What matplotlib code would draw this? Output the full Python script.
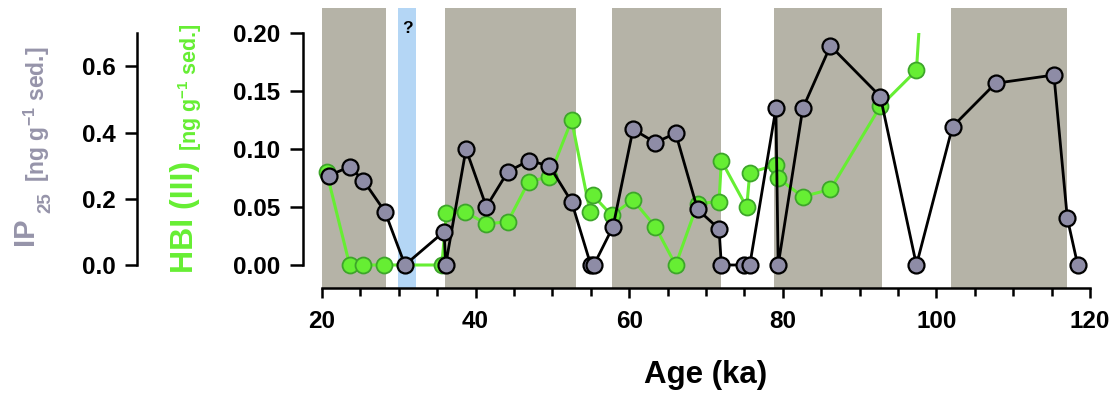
import matplotlib
matplotlib.use("Agg")
import matplotlib.pyplot as plt
from matplotlib.patches import Rectangle

plt.rcParams['font.family'] = ['Liberation Sans', 'DejaVu Sans']
plt.rcParams['font.weight'] = 'bold'
plt.rcParams['mathtext.fontset'] = 'custom'
plt.rcParams['mathtext.bf'] = 'Liberation Sans:bold'
plt.rcParams['mathtext.rm'] = 'Liberation Sans:bold'
plt.rcParams['mathtext.default'] = 'bf'

# ---------------- data ----------------
ip25_age = [20.9, 23.6, 25.4, 28.2, 30.8, 35.9, 36.1, 38.75, 41.4, 44.2, 46.9, 49.6,
            52.5, 55.0, 55.4, 57.9, 60.5, 63.4, 66.05, 68.9, 71.7, 72.0, 75.0, 75.7,
            79.1, 79.4, 82.6, 86.2, 92.7, 97.4, 102.1, 107.7, 115.3, 117.05, 118.4]
ip25_val = [0.270, 0.297, 0.255, 0.161, 0.0, 0.101, 0.0, 0.350, 0.176, 0.282, 0.315, 0.300,
            0.191, 0.0, 0.0, 0.116, 0.410, 0.370, 0.398, 0.168, 0.109, 0.0, 0.0, 0.0,
            0.473, 0.0, 0.473, 0.662, 0.509, 0.0, 0.418, 0.549, 0.574, 0.141, 0.0]

hbi_age = [20.6, 23.6, 25.4, 28.1, 35.6, 36.2, 38.6, 41.4, 44.2, 46.9, 49.6, 52.5,
           54.9, 55.3, 57.7, 60.5, 63.4, 66.05, 68.9, 71.7, 72.0, 75.3, 75.7, 79.1,
           79.4, 82.6, 86.2, 92.7, 97.4, 98.2]
hbi_val = [0.080, 0.0, 0.0, 0.0, 0.0, 0.0446, 0.046, 0.0354, 0.0374, 0.0719, 0.0762, 0.125,
           0.046, 0.060, 0.043, 0.0561, 0.033, 0.0, 0.053, 0.0547, 0.090, 0.0498, 0.0797, 0.0863,
           0.0748, 0.059, 0.0653, 0.137, 0.168, 0.25]

cold_bands = [(20.0, 28.3), (36.0, 53.1), (57.8, 71.9), (78.9, 92.9), (101.9, 117.0)]
blue_band = (29.9, 32.3)

x_ticks = [20, 40, 60, 80, 100, 120]
hbi_ticks = [0.00, 0.05, 0.10, 0.15, 0.20]
ip25_ticks = [0.0, 0.2, 0.4, 0.6]

# ---------------- styles ----------------
W, H = 1117, 396
band_col = '#b5b3a7'
blue_col = '#b4d6f5'
gray_fill = '#8e8ca6'
green = '#66ee33'
green_edge = '#3da52a'
ip_label_col = '#9694aa'
scale = 3.5
spine_lw = 1.8
tick_fs = 17.5

def fx(px):
    return px / W

def fy(py):
    return (H - py) / H

fig = plt.figure(figsize=(W / 100, H / 100), dpi=100)
ax = fig.add_axes([fx(322), fy(288), (1090 - 322) / W, (288 - 8) / H])
ppu = (265 - 33.3) / 0.2
ylo, yhi = -(288 - 265) / ppu, (265 - 8) / ppu
ax.set_xlim(20, 120)
ax.set_ylim(ylo, yhi)

for a, b in cold_bands:
    ax.axvspan(a, b, color=band_col, lw=0, zorder=0)
ax.axvspan(blue_band[0], blue_band[1], color=blue_col, lw=0, zorder=0)
ax.text(sum(blue_band) / 2, 0.2040, '?', ha='center', va='center', fontsize=12.5,
        fontweight='bold', color='black')

ln, = ax.plot(hbi_age, hbi_val, '-o', color=green, lw=2.2, ms=11.5, mfc=green,
              mec=green_edge, mew=1.3, zorder=3)
ln.set_clip_path(Rectangle((0, -1), 200, 1.2, transform=ax.transData))

# spines / ticks for HBI axis
for s in ['top', 'right']:
    ax.spines[s].set_visible(False)
ax.spines['left'].set_position(('outward', 19 * 0.72))
ax.spines['left'].set_bounds(0, 0.2)
ax.spines['left'].set_linewidth(spine_lw)
ax.spines['bottom'].set_linewidth(spine_lw)
ax.set_yticks(hbi_ticks)
ax.set_yticklabels([f'{v:.2f}' for v in hbi_ticks])
ax.set_xticks(x_ticks)
ax.set_xticks(range(20, 121, 5), minor=True)
ax.tick_params(axis='y', direction='out', length=9.4, width=spine_lw, labelsize=tick_fs, pad=7)
ax.tick_params(axis='x', which='major', direction='out', length=7.5, width=spine_lw,
               labelsize=tick_fs, pad=8)
ax.tick_params(axis='x', which='minor', direction='out', length=5.5, width=spine_lw)
for t in ax.get_xticklabels() + ax.get_yticklabels():
    t.set_fontweight('bold')

ax.set_xlabel('Age (ka)', fontsize=22.5, fontweight='bold')
ax.xaxis.set_label_coords(0.5, (288 - 383) / 280)
ax.xaxis.label.set_va('baseline')

# IP25 axis
ax2 = ax.twinx()
ax2.set_ylim(ylo * scale, yhi * scale)
ax2.plot(ip25_age, ip25_val, '-o', color='black', lw=2.0, ms=11.5, mfc=gray_fill,
         mec='black', mew=1.6, zorder=4, clip_on=False)
ax2.yaxis.set_ticks_position('left')
for s in ['top', 'right', 'bottom']:
    ax2.spines[s].set_visible(False)
ax2.spines['left'].set_visible(True)
ax2.spines['left'].set_position(('outward', (322 - 137) * 0.72))
ax2.spines['left'].set_bounds(0, 0.7)
ax2.spines['left'].set_linewidth(spine_lw)
ax2.set_yticks(ip25_ticks)
ax2.set_yticklabels([f'{v:.1f}' for v in ip25_ticks])
ax2.tick_params(axis='y', direction='out', length=8.6, width=spine_lw, labelsize=tick_fs, pad=7)
for t in ax2.get_yticklabels():
    t.set_fontweight('bold')

# rotated axis titles
def rot(x, y, s, size, color):
    fig.text(fx(x), fy(y), s, rotation=90, rotation_mode='anchor', ha='left',
             va='baseline', fontsize=size, fontweight='bold', color=color)

rot(33, 245, 'IP', 21, ip_label_col)
rot(50, 213, '25', 13.5, ip_label_col)
rot(45, 182, r'[ng g$^{-1}$ sed.]', 16.5, ip_label_col)
rot(193, 273, 'HBI (III)', 23, green)
rot(197, 151, r'[ng g$^{-1}$ sed.]', 15.5, green)

fig.savefig('out.png', dpi=100)
